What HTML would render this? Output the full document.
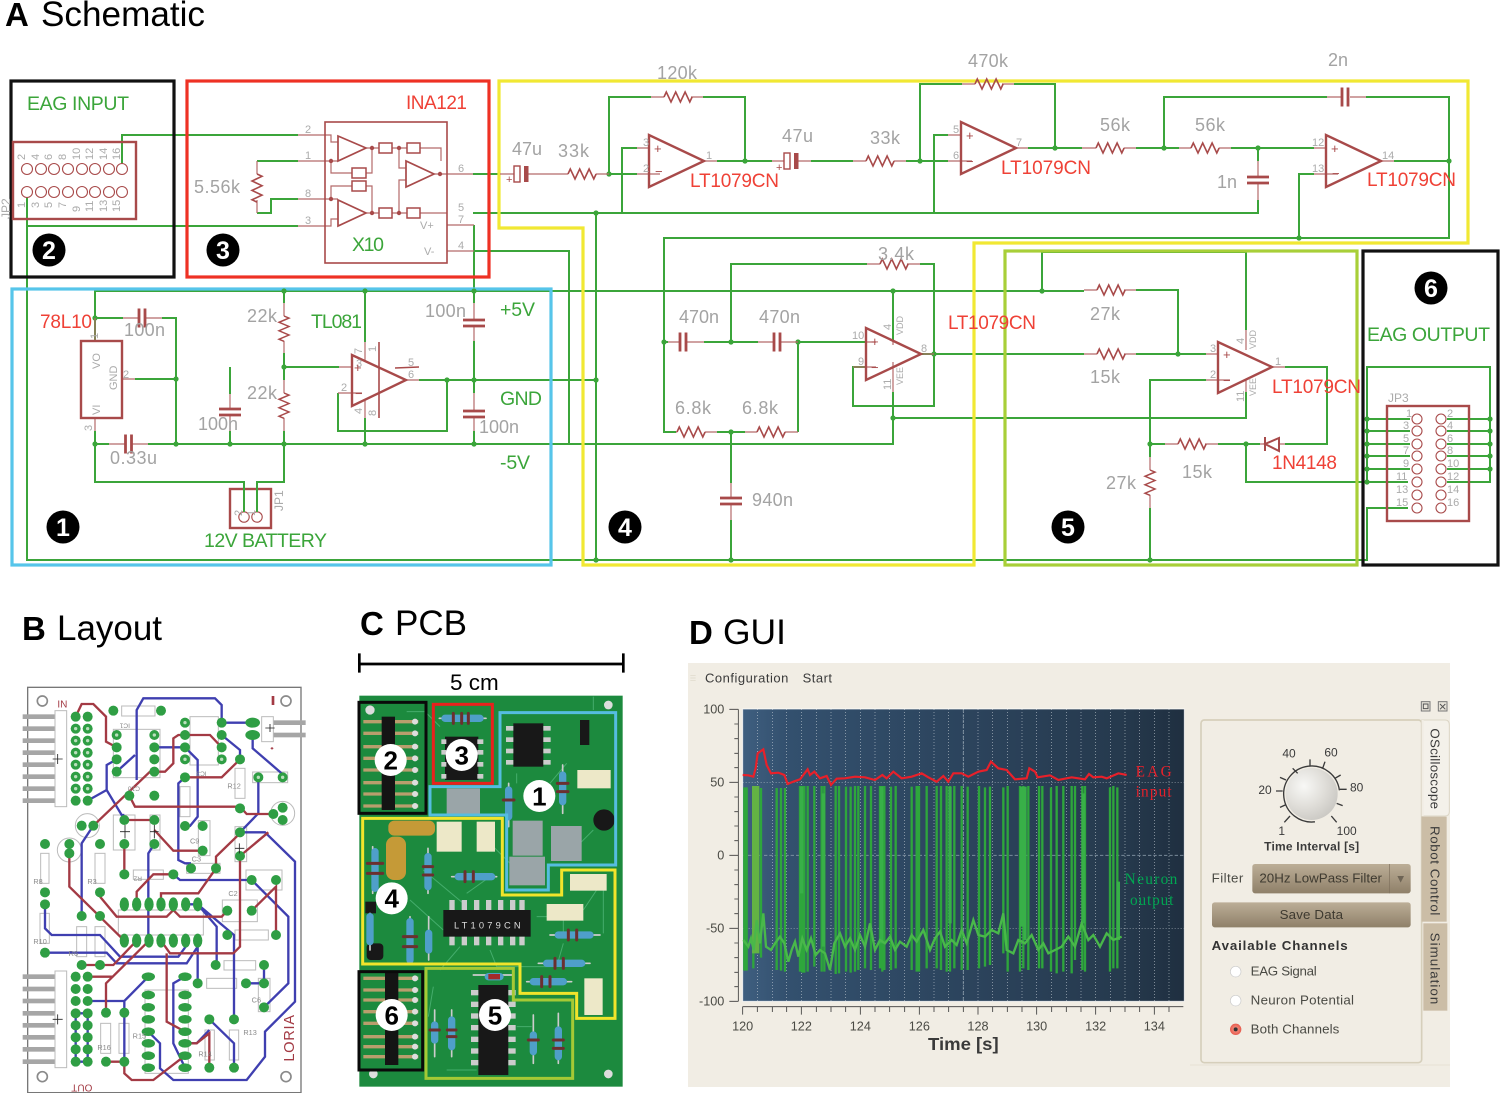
<!DOCTYPE html>
<html><head><meta charset="utf-8"><style>
html,body{margin:0;padding:0;background:#fff}
svg{display:block}
text{font-family:"Liberation Sans",sans-serif}
.g{fill:none;stroke:#3ba53a;stroke-width:2}
.b{fill:none;stroke:#b56a6a;stroke-width:1.2}
.r{fill:none;stroke:#a84a4a;stroke-width:1.6}
.t{fill:none;stroke:#a84a4a;stroke-width:2.4}
.lg{fill:#a3a3a3;font-size:18px}
.lv{fill:#3ba53a;font-size:19.5px}
.lr{fill:#ef4136;font-size:19px}
.p{fill:#ababab;font-size:11px}
.n{font-weight:bold;fill:#fff;font-size:25px;text-anchor:middle}
.ui{fill:#4a4a44;font-size:40px}
</style></head><body>
<svg xmlns="http://www.w3.org/2000/svg" width="1500" height="1093" viewBox="0 0 1500 1093">
<defs>
<path id="rz" d="M0 0l2.3-5 4.7 10 4.7-10 4.7 10 4.7-10 4.7 10 2.3-5"/>
<g id="ch" fill="none"><path d="M0-9.5V9.5M6-9.5V9.5" stroke="#a84a4a" stroke-width="2.8"/></g>
<g id="cv" fill="none"><path d="M-11 0H11M-11 6H11" stroke="#a84a4a" stroke-width="2.8"/></g>
<g id="pc"><rect x="0" y="-8" width="6" height="16" fill="none" stroke="#a84a4a" stroke-width="1.4"/><rect x="10" y="-8" width="4.5" height="16" fill="#a84a4a"/></g>
</defs>

<text x="5" y="26" font-size="33" font-weight="bold">A</text>
<text x="41" y="26" font-size="35" textLength="164" lengthAdjust="spacingAndGlyphs">Schematic</text>

<!-- wires -->
<g class="g">
<path d="M122,164V135H298M27,197V560H1367V508H1408M27,226H298M257,161H298M298,199H271V213H257M473,174H500M473,213H1258V200M474,225V303M474,251H569V444M95,341V291H1084"/>
<path d="M95,318H123M162,318H176V444M135,379H176M95,431V482H244V510M95,444H109M148,444H893V392M284,444V482H257V510M284,291V303M284,353V380M284,431V444M284,367H339M230,367V394M230,431V444M365,291V342M365,418V444M338,393V431H447V380M419,380H596M474,341V393M474,431V444M596,213V560"/>
<path d="M609,174H637M609,174V97H651M703,97H745V161M717,161H772M811,161H853M906,161H948M920,161V84H962M1014,84H1055V148M637,148H622V213M948,135H934V213M1028,148H1082M1136,148H1179M1231,148H1314M1164,148V97H1327M1366,97H1449V238H664V432H676M1394,161H1449M1299,238V174H1314M1258,148V161"/>
<path d="M664,342H668M704,342H758M798,342H866M731,342V264H867M920,264H934V406H853V367H866M921,354H1084M717,432H745M798,432V342M731,432V483M731,520V560M893,340V291M893,418H1246V392M1136,290H1178V354M1136,354H1206M1042,291V252H1246V330M1206,380H1150V457M1150,508V560M1150,444H1165M1218,444H1260M1285,444H1327V367H1285M1246,444V482H1408M1367,482V367H1490V482H1447M1367,419H1410M1367,431H1410M1367,444H1410M1367,456H1410M1367,469H1410M1447,419H1490M1447,431H1490M1447,444H1490M1447,456H1490M1447,469H1490"/>
</g>

<!-- region boxes -->
<g fill="none" stroke-width="3.2">
<rect x="11" y="81" width="163" height="196" stroke="#111"/>
<rect x="187" y="81" width="302" height="196" stroke="#ee3124"/>
<rect x="12" y="289" width="539" height="276" stroke="#56c5ea"/>
<path d="M499,81H1468V243H974V565H583V228H499Z" stroke="#f1e833"/>
<rect x="1005" y="251" width="352" height="314" stroke="#a8cf38"/>
<rect x="1363" y="251" width="135" height="314" stroke="#111"/>
</g>

<!-- dots -->
<g fill="#3ba53a">
<circle cx="95" cy="318" r="2.6"/><circle cx="95" cy="444" r="2.6"/><circle cx="176" cy="379" r="2.6"/><circle cx="176" cy="444" r="2.6"/><circle cx="230" cy="444" r="2.6"/><circle cx="284" cy="291" r="2.6"/><circle cx="284" cy="367" r="2.6"/><circle cx="284" cy="444" r="2.6"/><circle cx="365" cy="291" r="2.6"/><circle cx="365" cy="444" r="2.6"/><circle cx="447" cy="380" r="2.6"/><circle cx="474" cy="291" r="2.6"/><circle cx="474" cy="380" r="2.6"/><circle cx="474" cy="444" r="2.6"/>
<circle cx="596" cy="213" r="2.6"/><circle cx="596" cy="380" r="2.6"/><circle cx="596" cy="560" r="2.6"/><circle cx="609" cy="174" r="2.6"/><circle cx="745" cy="161" r="2.6"/><circle cx="920" cy="161" r="2.6"/><circle cx="1055" cy="148" r="2.6"/><circle cx="1164" cy="148" r="2.6"/><circle cx="1258" cy="148" r="2.6"/><circle cx="1449" cy="161" r="2.6"/><circle cx="1299" cy="238" r="2.6"/>
<circle cx="664" cy="342" r="2.6"/><circle cx="731" cy="342" r="2.6"/><circle cx="798" cy="342" r="2.6"/><circle cx="731" cy="432" r="2.6"/><circle cx="731" cy="560" r="2.6"/><circle cx="893" cy="291" r="2.6"/><circle cx="893" cy="418" r="2.6"/><circle cx="934" cy="354" r="2.6"/><circle cx="1042" cy="291" r="2.6"/><circle cx="1178" cy="354" r="2.6"/><circle cx="1150" cy="444" r="2.6"/><circle cx="1150" cy="560" r="2.6"/><circle cx="1246" cy="444" r="2.6"/>
<circle cx="1367" cy="419" r="2.6"/><circle cx="1367" cy="431" r="2.6"/><circle cx="1367" cy="444" r="2.6"/><circle cx="1367" cy="456" r="2.6"/><circle cx="1367" cy="469" r="2.6"/><circle cx="1367" cy="482" r="2.6"/><circle cx="1490" cy="419" r="2.6"/><circle cx="1490" cy="431" r="2.6"/><circle cx="1490" cy="444" r="2.6"/><circle cx="1490" cy="456" r="2.6"/><circle cx="1490" cy="469" r="2.6"/>
</g>

<!-- brown stubs -->
<path class="b" d="M298,135H331V142H338M298,161H338M298,199H338M298,226H331V219H338M366,148H379M392,148H407M420,148H441V161M366,213H379M392,213H407M420,213H447M372,148V173H366M331,161V173H352M331,199V186H352M366,186H372V213M399,148V168H406M399,213V180H406M434,174H473M447,225H474M447,251H474"/>
<path class="b" d="M257,161V174M257,200V213M95,318V341M135,379H122M95,418V431M109,444H125M132,444H148M123,318H139M146,318H162M284,303V316M284,341V353M284,380V393M284,418V431M230,394V409M230,416V431M339,367H352M338,393H362M365,342V362M365,400V418M406,380H419M474,303V320M474,327V341M474,393V410M474,417V431"/>
<path class="b" d="M500,174H514M528,174H568M596,174H609M637,174H660M637,148H649M651,97H664M691,97H703M704,161H717M772,161H784M798,161H811M853,161H866M894,161H906M948,135H961M948,161H972M962,84H975M1002,84H1014M1016,148H1028M1082,148H1096M1124,148H1136M1179,148H1191M1219,148H1231M1314,148H1326M1314,174H1338M1327,97H1342M1350,97H1366M1381,161H1394M1258,161V177M1258,184V200"/>
<path class="b" d="M668,342H680M687,342H704M758,342H774M781,342H798M866,342H876M853,367H876M867,264H880M907,264H920M921,354H934M893,340V345M893,362V392M676,432H677M705,432H717M745,432H757M785,432H798M731,483V498M731,505V520M1084,290H1097M1124,290H1136M1084,354H1097M1124,354H1136M1206,354H1218M1206,380H1230M1272,367H1285M1246,330V350M1246,380V392M1165,444H1178M1205,444H1218M1260,444H1265M1279,444H1285M1150,457V470M1150,495V508"/>

<!-- resistors -->
<g class="r">
<use href="#rz" x="0" y="0" transform="translate(257,174) rotate(90)"/>
<use href="#rz" transform="translate(284,316) rotate(90) scale(.9,1)"/>
<use href="#rz" transform="translate(284,393) rotate(90) scale(.9,1)"/>
<use href="#rz" transform="translate(568,174)"/>
<use href="#rz" transform="translate(664,97)"/>
<use href="#rz" transform="translate(866,161)"/>
<use href="#rz" transform="translate(975,84)"/>
<use href="#rz" transform="translate(1096,148)"/>
<use href="#rz" transform="translate(1191,148)"/>
<use href="#rz" transform="translate(880,264)"/>
<use href="#rz" transform="translate(677,432)"/>
<use href="#rz" transform="translate(757,432)"/>
<use href="#rz" transform="translate(1097,290)"/>
<use href="#rz" transform="translate(1097,354)"/>
<use href="#rz" transform="translate(1178,444)"/>
<use href="#rz" transform="translate(1150,470) rotate(90) scale(.9,1)"/>
</g>

<!-- capacitors -->
<use href="#ch" x="139" y="318"/><use href="#ch" x="125.5" y="444"/><use href="#cv" x="230" y="409"/><use href="#cv" x="474" y="320"/><use href="#cv" x="474" y="411"/>
<use href="#ch" x="1342" y="97" /><use href="#cv" x="1258" y="177"/><use href="#ch" x="680" y="342"/><use href="#ch" x="774" y="342"/><use href="#cv" x="731" y="498"/>
<use href="#pc" x="514" y="174"/><use href="#pc" x="784" y="161"/>
<text x="506" y="183" class="p" style="fill:#a84a4a">+</text><text x="776" y="171" class="p" style="fill:#a84a4a">+</text>

<!-- op amps -->
<g class="t">
<path d="M649,135V187L704,161Z"/><path d="M961,122V174L1016,148Z"/><path d="M1326,135V187L1381,161Z"/>
<path d="M866,328V380L921,354Z"/><path d="M1218,342V393L1272,367Z"/><path d="M352,355V406L406,380Z"/>
<path d="M338,136V161L366,148Z" stroke-width="1.7"/><path d="M338,200V226L366,213Z" stroke-width="1.7"/><path d="M406,161V187L434,174Z" stroke-width="1.7"/>
<rect x="325" y="122" width="122" height="141" stroke-width="1.6"/>
<rect x="13" y="142" width="123" height="77"/>
<rect x="81" y="341" width="41" height="77"/>
<rect x="230" y="489" width="41" height="39"/>
<rect x="1387" y="406" width="82" height="115"/>
</g>
<path class="r" d="M379,342V418M395,368L419,367" stroke-width="1"/>
<g fill="none" stroke="#a84a4a" stroke-width="1.5">
<rect x="379" y="143" width="13" height="10"/><rect x="407" y="143" width="13" height="10"/><rect x="379" y="208" width="13" height="10"/><rect x="407" y="208" width="13" height="10"/><rect x="352" y="168" width="14" height="10"/><rect x="352" y="181" width="14" height="10"/>
<path d="M1265,437V451M1279,438V451L1265,444Z" stroke-width="2"/>
</g>
<g fill="#a84a4a"><circle cx="372" cy="148" r="2.2"/><circle cx="399" cy="148" r="2.2"/><circle cx="372" cy="213" r="2.2"/><circle cx="399" cy="213" r="2.2"/><circle cx="331" cy="161" r="2.2"/><circle cx="331" cy="199" r="2.2"/><circle cx="440" cy="174" r="2.2"/></g>

<!-- connector holes -->
<g fill="#fff" stroke="#a84a4a" stroke-width="1.1">
<circle cx="27" cy="169" r="5.5"/><circle cx="41" cy="169" r="5.5"/><circle cx="54" cy="169" r="5.5"/><circle cx="68" cy="169" r="5.5"/><circle cx="82" cy="169" r="5.5"/><circle cx="95" cy="169" r="5.5"/><circle cx="109" cy="169" r="5.5"/><circle cx="122" cy="169" r="5.5"/>
<circle cx="27" cy="192" r="5.5"/><circle cx="41" cy="192" r="5.5"/><circle cx="54" cy="192" r="5.5"/><circle cx="68" cy="192" r="5.5"/><circle cx="82" cy="192" r="5.5"/><circle cx="95" cy="192" r="5.5"/><circle cx="109" cy="192" r="5.5"/><circle cx="122" cy="192" r="5.5"/>
<circle cx="244" cy="517" r="5.2"/><circle cx="257" cy="517" r="5.2"/>
<circle cx="1417" cy="419" r="5"/><circle cx="1417" cy="431" r="5"/><circle cx="1417" cy="444" r="5"/><circle cx="1417" cy="456" r="5"/><circle cx="1417" cy="469" r="5"/><circle cx="1417" cy="482" r="5"/><circle cx="1417" cy="495" r="5"/><circle cx="1417" cy="508" r="5"/>
<circle cx="1441" cy="419" r="5"/><circle cx="1441" cy="431" r="5"/><circle cx="1441" cy="444" r="5"/><circle cx="1441" cy="456" r="5"/><circle cx="1441" cy="469" r="5"/><circle cx="1441" cy="482" r="5"/><circle cx="1441" cy="495" r="5"/><circle cx="1441" cy="508" r="5"/>
</g>
<path class="g" d="M244,482V512M257,482V512"/>

<!-- small pin labels -->
<g class="p">
<text x="305" y="133">2</text><text x="305" y="159">1</text><text x="305" y="197">8</text><text x="305" y="224">3</text><text x="458" y="172">6</text><text x="458" y="211">5</text><text x="458" y="223">7</text><text x="458" y="249">4</text>
<text x="420" y="229">V+</text><text x="424" y="255">V-</text>
<text x="643" y="146">3</text><text x="643" y="172">2</text><text x="706" y="159">1</text><text x="953" y="133">5</text><text x="953" y="159">6</text><text x="1016" y="146">7</text><text x="1312" y="146">12</text><text x="1312" y="172">13</text><text x="1382" y="159">14</text>
<text x="852" y="339">10</text><text x="858" y="365">9</text><text x="921" y="352">8</text>
<text x="1210" y="352">3</text><text x="1210" y="378">2</text><text x="1275" y="365">1</text>
<text x="356" y="367">3</text><text x="341" y="391">2</text><text x="408" y="366">5</text><text x="408" y="378">6</text><text x="123" y="378">2</text>
<text x="1406" y="417">1</text><text x="1403" y="429">3</text><text x="1403" y="442">5</text><text x="1403" y="454">7</text><text x="1403" y="467">9</text><text x="1396" y="480">11</text><text x="1396" y="493">13</text><text x="1396" y="506">15</text>
<text x="1447" y="417">2</text><text x="1447" y="429">4</text><text x="1447" y="442">6</text><text x="1447" y="454">8</text><text x="1447" y="467">10</text><text x="1447" y="480">12</text><text x="1447" y="493">14</text><text x="1447" y="506">16</text>
<text transform="translate(25,160) rotate(-90)">2</text><text transform="translate(39,160) rotate(-90)">4</text><text transform="translate(52,160) rotate(-90)">6</text><text transform="translate(66,160) rotate(-90)">8</text><text transform="translate(80,160) rotate(-90)">10</text><text transform="translate(93,160) rotate(-90)">12</text><text transform="translate(107,160) rotate(-90)">14</text><text transform="translate(120,160) rotate(-90)">16</text>
<text transform="translate(25,208) rotate(-90)">1</text><text transform="translate(39,208) rotate(-90)">3</text><text transform="translate(52,208) rotate(-90)">5</text><text transform="translate(66,208) rotate(-90)">7</text><text transform="translate(80,212) rotate(-90)">9</text><text transform="translate(93,212) rotate(-90)">11</text><text transform="translate(107,212) rotate(-90)">13</text><text transform="translate(120,212) rotate(-90)">15</text>
<text transform="translate(10,219) rotate(-90)" style="font-size:12px">JP2</text>
<text transform="translate(98,339) rotate(-90)">1</text><text transform="translate(92,431) rotate(-90)">3</text>
<text transform="translate(100,369) rotate(-90)">VO</text><text transform="translate(117,390) rotate(-90)">GND</text><text transform="translate(100,415) rotate(-90)">VI</text>
<text transform="translate(362,354) rotate(-90)">7</text><text transform="translate(376,352) rotate(-90)">1</text><text transform="translate(362,414) rotate(-90)">4</text><text transform="translate(376,416) rotate(-90)">8</text>
<text transform="translate(242,516) rotate(-90)">2</text><text transform="translate(255,516) rotate(-90)">1</text><text transform="translate(283,511) rotate(-90)" style="font-size:12px">JP1</text>
<text transform="translate(891,330) rotate(-90)">4</text><text transform="translate(903,335) rotate(-90)" style="font-size:9px">VDD</text><text transform="translate(891,390) rotate(-90)">11</text><text transform="translate(903,385) rotate(-90)" style="font-size:9px">VEE</text>
<text transform="translate(1244,344) rotate(-90)">4</text><text transform="translate(1256,349) rotate(-90)" style="font-size:9px">VDD</text><text transform="translate(1244,402) rotate(-90)">11</text><text transform="translate(1256,396) rotate(-90)" style="font-size:9px">VEE</text>
<text x="1388" y="402" style="font-size:12px">JP3</text>
</g>

<!-- plus/minus -->
<g fill="#a84a4a" font-size="13">
<text x="654" y="153">+</text><text x="655" y="176">−</text><text x="966" y="140">+</text><text x="966" y="166">−</text><text x="1331" y="153">+</text><text x="1332" y="178">−</text>
<text x="871" y="346">+</text><text x="871" y="372">−</text><text x="1223" y="359">+</text><text x="1223" y="385">−</text><text x="354" y="372">+</text><text x="355" y="398">−</text>
</g>

<!-- labels -->
<text x="27" y="110" class="lv" textLength="102">EAG INPUT</text>
<text x="406" y="109" class="lr" textLength="61">INA121</text>
<text x="194" y="193" class="lg" textLength="46">5.56k</text>
<text x="352" y="251" class="lv" textLength="32">X10</text>
<text x="40" y="328" class="lr" textLength="52">78L10</text>
<text x="124" y="336" class="lg" textLength="41">100n</text>
<text x="247" y="322" class="lg" textLength="30">22k</text>
<text x="311" y="328" class="lv" textLength="51">TL081</text>
<text x="425" y="317" class="lg" textLength="41">100n</text>
<text x="500" y="316" class="lv" textLength="35">+5V</text>
<text x="500" y="405" class="lv" textLength="42">GND</text>
<text x="479" y="433" class="lg" textLength="40">100n</text>
<text x="500" y="469" class="lv" textLength="30">-5V</text>
<text x="247" y="399" class="lg" textLength="30">22k</text>
<text x="198" y="430" class="lg" textLength="40">100n</text>
<text x="110" y="464" class="lg" textLength="47">0.33u</text>
<text x="204" y="547" class="lv" textLength="123">12V BATTERY</text>
<text x="512" y="155" class="lg" textLength="30">47u</text>
<text x="558" y="157" class="lg" textLength="31">33k</text>
<text x="657" y="79" class="lg" textLength="40">120k</text>
<text x="690" y="187" class="lr" textLength="89">LT1079CN</text>
<text x="782" y="142" class="lg" textLength="31">47u</text>
<text x="870" y="144" class="lg" textLength="30">33k</text>
<text x="968" y="67" class="lg" textLength="40">470k</text>
<text x="1001" y="174" class="lr" textLength="90">LT1079CN</text>
<text x="1100" y="131" class="lg" textLength="30">56k</text>
<text x="1195" y="131" class="lg" textLength="30">56k</text>
<text x="1328" y="66" class="lg" textLength="20">2n</text>
<text x="1217" y="188" class="lg" textLength="20">1n</text>
<text x="1367" y="186" class="lr" textLength="89">LT1079CN</text>
<text x="679" y="323" class="lg" textLength="40">470n</text>
<text x="759" y="323" class="lg" textLength="41">470n</text>
<text x="878" y="260" class="lg" textLength="36">3.4k</text>
<text x="948" y="329" class="lr" textLength="88">LT1079CN</text>
<text x="675" y="414" class="lg" textLength="36">6.8k</text>
<text x="742" y="414" class="lg" textLength="36">6.8k</text>
<text x="752" y="506" class="lg" textLength="41">940n</text>
<text x="1090" y="320" class="lg" textLength="30">27k</text>
<text x="1090" y="383" class="lg" textLength="30">15k</text>
<text x="1272" y="393" class="lr" textLength="89">LT1079CN</text>
<text x="1272" y="469" class="lr" textLength="65">1N4148</text>
<text x="1182" y="478" class="lg" textLength="30">15k</text>
<text x="1106" y="489" class="lg" textLength="30">27k</text>
<text x="1367" y="341" class="lv" textLength="123">EAG OUTPUT</text>

<!-- bubbles -->
<g fill="#000"><circle cx="49" cy="250" r="16.5"/><circle cx="223" cy="250" r="16.5"/><circle cx="63" cy="527" r="16.5"/><circle cx="625" cy="527" r="16.5"/><circle cx="1068" cy="527" r="16.5"/><circle cx="1431" cy="288" r="16.5"/></g>
<text x="49" y="259" class="n">2</text><text x="223" y="259" class="n">3</text><text x="63" y="536" class="n">1</text><text x="625" y="536" class="n">4</text><text x="1068" y="536" class="n">5</text><text x="1431" y="297" class="n">6</text>

<!-- section titles -->
<text x="22" y="640" font-size="33" font-weight="bold">B</text><text x="57" y="640" font-size="35" textLength="105" lengthAdjust="spacingAndGlyphs">Layout</text>
<text x="360" y="635" font-size="33" font-weight="bold">C</text><text x="395" y="635" font-size="35" textLength="72" lengthAdjust="spacingAndGlyphs">PCB</text>
<text x="689" y="644" font-size="33" font-weight="bold">D</text><text x="723" y="644" font-size="35" textLength="63" lengthAdjust="spacingAndGlyphs">GUI</text>

<!-- B layout -->
<g transform="translate(10,680) scale(.33333)">
<rect x="53" y="22" width="820" height="1216" fill="#fff" stroke="#777" stroke-width="4"/>
<g fill="#a6a6a6">
<rect x="38" y="103" width="97" height="14"/><rect x="38" y="139" width="97" height="14"/><rect x="38" y="175" width="97" height="14"/><rect x="38" y="211" width="97" height="14"/><rect x="38" y="247" width="97" height="14"/><rect x="38" y="283" width="97" height="14"/><rect x="38" y="319" width="97" height="14"/><rect x="38" y="355" width="97" height="14"/>
<rect x="38" y="883" width="97" height="14"/><rect x="38" y="920" width="97" height="14"/><rect x="38" y="956" width="97" height="14"/><rect x="38" y="993" width="97" height="14"/><rect x="38" y="1029" width="97" height="14"/><rect x="38" y="1065" width="97" height="14"/><rect x="38" y="1101" width="97" height="14"/><rect x="38" y="1138" width="97" height="14"/>
<rect x="790" y="121" width="97" height="14"/><rect x="790" y="158" width="97" height="14"/>
</g>
<g fill="#fff" stroke="#bbb" stroke-width="3">
<rect x="135" y="92" width="35" height="288"/><rect x="135" y="873" width="35" height="290"/><rect x="755" y="110" width="35" height="75"/>
<rect x="310" y="148" width="140" height="145"/><rect x="540" y="110" width="85" height="145"/><rect x="335" y="78" width="100" height="30"/>
<rect x="310" y="405" width="65" height="105"/><rect x="420" y="405" width="30" height="105"/><rect x="565" y="422" width="35" height="105"/><rect x="675" y="440" width="35" height="105"/>
<rect x="92" y="520" width="25" height="90"/><rect x="255" y="520" width="30" height="90"/><rect x="370" y="570" width="90" height="28"/><rect x="530" y="550" width="100" height="30"/>
<rect x="708" y="570" width="108" height="60"/><rect x="637" y="660" width="105" height="65"/><rect x="675" y="750" width="100" height="30"/><rect x="642" y="842" width="95" height="28"/><rect x="590" y="895" width="90" height="30"/><rect x="745" y="895" width="35" height="100"/>
<rect x="325" y="690" width="255" height="75"/><rect x="90" y="700" width="28" height="90"/><rect x="200" y="740" width="30" height="90"/><rect x="255" y="740" width="30" height="90"/>
<rect x="405" y="930" width="130" height="250"/><rect x="272" y="1030" width="30" height="90"/><rect x="327" y="1030" width="30" height="90"/><rect x="585" y="1050" width="28" height="90"/><rect x="658" y="1050" width="28" height="90"/>
<rect x="675" y="265" width="30" height="90"/><rect x="510" y="320" width="30" height="90"/><rect x="728" y="276" width="105" height="32"/>
<circle cx="232" cy="437" r="36"/><circle cx="178" cy="510" r="36"/><circle cx="818" cy="400" r="36"/>
</g>
<g fill="none" stroke="#3f3fb0" stroke-width="7">
<path d="M380,300V90L400,55H615L635,75V128H728M635,165L690,210V238M728,165V205L815,280M433,202H525L563,240V410L540,438H525M233,362L290,330V255L320,238M290,330L335,405H343M215,708V490L250,437"/>
<path d="M105,673V745L125,765H270L330,830H505L527,800V782M105,818H290L320,850H530L563,800V782M433,492L415,520V782M525,292L505,310V540L525,550H543M490,583L510,600H725L835,710V910L762,982M563,673L620,740V855M527,673H563L672,765V1018M690,457L745,400V292"/>
<path d="M690,457H765L855,545V965L765,1055V1130L710,1200H490L450,1165V1090L415,1055M233,963H343L415,890M343,963V1145M563,782V910M525,890L490,910V1090L525,1163M598,1018L672,1090V1163M598,1050L560,1090H525M197,1000V1145H233V1000H197M708,910H762V855M320,275L375,225"/>
</g>
<g fill="none" stroke="#a33a44" stroke-width="7">
<path d="M197,110L215,72H250L288,110V185L320,202M433,275H465L490,250V175L505,165H600L635,202M525,292H635L690,238M358,347L375,380H690L710,402H790M250,437L420,275H433M343,420H433M433,450L490,512H578M343,492V583M178,520V620L343,782"/>
<path d="M270,650L320,710H470L490,690L510,710H635L652,692M380,673V635L430,583H490M453,673V640H565L618,565V530L690,460M690,528L775,457M690,528V800L670,820H480L453,782M725,692L798,620V765M215,855H310L380,782M288,998V910L417,782M233,890H310M470,820V1025L525,1055M288,1145H343V1180L365,1200H430L525,1127M525,1090H560L598,1060V1163"/>
</g>
<g fill="#2f9e44">
<circle cx="197" cy="110" r="15"/><circle cx="233" cy="110" r="15"/><circle cx="197" cy="146" r="15"/><circle cx="233" cy="146" r="15"/><circle cx="197" cy="182" r="15"/><circle cx="233" cy="182" r="15"/><circle cx="197" cy="218" r="15"/><circle cx="233" cy="218" r="15"/><circle cx="197" cy="254" r="15"/><circle cx="233" cy="254" r="15"/><circle cx="197" cy="290" r="15"/><circle cx="233" cy="290" r="15"/><circle cx="197" cy="326" r="15"/><circle cx="233" cy="326" r="15"/><circle cx="197" cy="362" r="15"/><circle cx="233" cy="362" r="15"/>
<circle cx="197" cy="890" r="15"/><circle cx="233" cy="890" r="15"/><circle cx="197" cy="927" r="15"/><circle cx="233" cy="927" r="15"/><circle cx="197" cy="963" r="15"/><circle cx="233" cy="963" r="15"/><circle cx="197" cy="1000" r="15"/><circle cx="233" cy="1000" r="15"/><circle cx="197" cy="1036" r="15"/><circle cx="233" cy="1036" r="15"/><circle cx="197" cy="1072" r="15"/><circle cx="233" cy="1072" r="15"/><circle cx="197" cy="1108" r="15"/><circle cx="233" cy="1108" r="15"/><circle cx="197" cy="1145" r="15"/><circle cx="233" cy="1145" r="15"/>
<circle cx="320" cy="165" r="15"/><circle cx="320" cy="202" r="15"/><circle cx="320" cy="238" r="15"/><circle cx="320" cy="275" r="15"/><circle cx="433" cy="165" r="15"/><circle cx="433" cy="202" r="15"/><circle cx="433" cy="238" r="15"/><circle cx="433" cy="275" r="15"/><circle cx="310" cy="92" r="15"/><circle cx="453" cy="92" r="15"/>
<circle cx="525" cy="128" r="15"/><circle cx="525" cy="165" r="15"/><circle cx="525" cy="202" r="15"/><circle cx="525" cy="238" r="15"/><circle cx="635" cy="128" r="15"/><circle cx="635" cy="165" r="15"/><circle cx="635" cy="202" r="15"/><circle cx="635" cy="238" r="15"/>
<ellipse cx="728" cy="128" rx="22" ry="15"/><ellipse cx="728" cy="165" rx="22" ry="15"/><circle cx="690" cy="238" r="15"/><circle cx="690" cy="385" r="15"/><circle cx="525" cy="292" r="15"/><circle cx="525" cy="438" r="15"/><circle cx="745" cy="292" r="15"/><circle cx="818" cy="292" r="15"/><circle cx="818" cy="383" r="15"/><circle cx="818" cy="420" r="15"/><circle cx="790" cy="402" r="15"/>
<circle cx="358" cy="347" r="15"/><circle cx="433" cy="347" r="15"/><circle cx="215" cy="437" r="15"/><circle cx="250" cy="437" r="15"/><circle cx="343" cy="420" r="15"/><circle cx="343" cy="492" r="15"/><circle cx="433" cy="420" r="15"/><circle cx="433" cy="492" r="15"/><circle cx="578" cy="438" r="15"/><circle cx="578" cy="512" r="15"/><circle cx="690" cy="457" r="15"/><circle cx="690" cy="528" r="15"/>
<circle cx="105" cy="492" r="15"/><circle cx="178" cy="492" r="15"/><circle cx="178" cy="520" r="15"/><circle cx="270" cy="492" r="15"/><circle cx="270" cy="637" r="15"/><circle cx="343" cy="583" r="15"/><circle cx="490" cy="583" r="15"/><circle cx="543" cy="565" r="15"/><circle cx="618" cy="565" r="15"/><circle cx="725" cy="600" r="15"/><circle cx="798" cy="600" r="15"/>
<circle cx="105" cy="637" r="15"/><circle cx="105" cy="673" r="15"/><circle cx="105" cy="818" r="15"/><circle cx="215" cy="708" r="15"/><circle cx="270" cy="708" r="15"/><circle cx="215" cy="855" r="15"/><circle cx="270" cy="855" r="15"/><circle cx="652" cy="692" r="15"/><circle cx="725" cy="692" r="15"/><circle cx="652" cy="765" r="15"/><circle cx="798" cy="765" r="15"/>
<ellipse cx="343" cy="673" rx="14" ry="21"/><ellipse cx="380" cy="673" rx="14" ry="21"/><ellipse cx="417" cy="673" rx="14" ry="21"/><ellipse cx="453" cy="673" rx="14" ry="21"/><ellipse cx="490" cy="673" rx="14" ry="21"/><ellipse cx="527" cy="673" rx="14" ry="21"/><ellipse cx="563" cy="673" rx="14" ry="21"/>
<ellipse cx="343" cy="782" rx="14" ry="21"/><ellipse cx="380" cy="782" rx="14" ry="21"/><ellipse cx="417" cy="782" rx="14" ry="21"/><ellipse cx="453" cy="782" rx="14" ry="21"/><ellipse cx="490" cy="782" rx="14" ry="21"/><ellipse cx="527" cy="782" rx="14" ry="21"/><ellipse cx="563" cy="782" rx="14" ry="21"/>
<circle cx="617" cy="855" r="15"/><circle cx="762" cy="855" r="15"/><circle cx="563" cy="910" r="15"/><circle cx="708" cy="910" r="15"/><circle cx="762" cy="910" r="15"/><circle cx="762" cy="982" r="15"/><ellipse cx="415" cy="890" rx="20" ry="13"/><ellipse cx="525" cy="890" rx="20" ry="13"/>
<ellipse cx="415" cy="945" rx="20" ry="13"/><ellipse cx="415" cy="982" rx="20" ry="13"/><ellipse cx="415" cy="1018" rx="20" ry="13"/><ellipse cx="415" cy="1055" rx="20" ry="13"/><ellipse cx="415" cy="1090" rx="20" ry="13"/><ellipse cx="415" cy="1127" rx="20" ry="13"/><ellipse cx="415" cy="1163" rx="20" ry="13"/>
<ellipse cx="525" cy="945" rx="20" ry="13"/><ellipse cx="525" cy="982" rx="20" ry="13"/><ellipse cx="525" cy="1018" rx="20" ry="13"/><ellipse cx="525" cy="1055" rx="20" ry="13"/><ellipse cx="525" cy="1090" rx="20" ry="13"/><ellipse cx="525" cy="1127" rx="20" ry="13"/><ellipse cx="525" cy="1163" rx="20" ry="13"/>
<circle cx="288" cy="998" r="15"/><circle cx="343" cy="998" r="15"/><circle cx="288" cy="1145" r="15"/><circle cx="343" cy="1145" r="15"/><circle cx="598" cy="1018" r="15"/><circle cx="672" cy="1018" r="15"/><circle cx="598" cy="1163" r="15"/><circle cx="672" cy="1163" r="15"/>
</g>
<g fill="#eaf5e6" opacity=".75">
<circle cx="233" cy="146" r="5"/><circle cx="233" cy="182" r="5"/><circle cx="233" cy="218" r="5"/><circle cx="233" cy="254" r="5"/><circle cx="233" cy="290" r="5"/><circle cx="233" cy="326" r="5"/><circle cx="197" cy="146" r="5"/><circle cx="197" cy="182" r="5"/><circle cx="197" cy="218" r="5"/><circle cx="197" cy="254" r="5"/><circle cx="197" cy="290" r="5"/><circle cx="197" cy="326" r="5"/><circle cx="320" cy="165" r="5"/><circle cx="433" cy="165" r="5"/><circle cx="525" cy="128" r="5"/><circle cx="525" cy="238" r="5"/><circle cx="635" cy="238" r="5"/><circle cx="745" cy="292" r="5"/><circle cx="818" cy="292" r="5"/>
</g>
<g fill="none" stroke="#8a8a8a" stroke-width="5"><circle cx="97" cy="63" r="15"/><circle cx="828" cy="63" r="15"/><circle cx="97" cy="1190" r="15"/><circle cx="828" cy="1190" r="15"/></g>
<g stroke="#222" stroke-width="2.5"><path d="M143,222V252M128,237H158M143,1003V1033M128,1018H158M780,132V156M766,144H794M345,435V475M330,455H360M433,435V475M420,455H446M688,490V520M675,505H703"/></g>
<rect x="785" y="48" width="8" height="27" fill="#a33a44"/>
<path d="M782,205H790M786,201V209" stroke="#a33a44" stroke-width="3"/>
<text transform="translate(852,1145) rotate(-90)" font-size="44" fill="#a33a44" textLength="140">LORIA</text>
<text transform="translate(172,62) rotate(180)" font-size="30" fill="#a33a44">NI</text>
<text transform="translate(247,1213) rotate(180)" font-size="30" fill="#a33a44">OUT</text>
<g font-size="22" fill="#8a8a8a">
<text x="70" y="612">R8</text><text x="232" y="612">R3</text><text x="70" y="792">R10</text><text x="176" y="828">R6</text><text x="368" y="1075">R15</text><text x="262" y="1110">R16</text><text x="565" y="1130">R14</text><text x="700" y="1065">R13</text><text x="652" y="325">R12</text><text x="540" y="490">C9</text><text x="655" y="648">C2</text><text x="725" y="968">C6</text><text x="545" y="545">C3</text>
<text transform="translate(396,590) rotate(180)" font-size="20">R2</text><text transform="translate(590,275) rotate(180)" font-size="20">IC3</text><text transform="translate(360,130) rotate(180)" font-size="20">IC1</text><text transform="translate(390,320) rotate(180)" font-size="20">C10</text>
</g>
</g>

<!-- C PCB -->
<g transform="translate(350,650) scale(.33333)">
<path d="M28,42H820M28,10V68M820,10V68" fill="none" stroke="#000" stroke-width="8"/>
<text x="300" y="120" font-size="66" textLength="146" lengthAdjust="spacingAndGlyphs">5 cm</text>
<rect x="28" y="137" width="790" height="1173" fill="#1c8a3e"/>
<g fill="none" stroke="#45ad6c" stroke-width="3">
<path d="M170,185H225L270,230M600,400L650,340M500,400V370M340,760L220,660M180,750L280,840M330,890L270,960M420,900L440,950H620L640,880M560,800H640V860M740,720L700,780M760,720V850M350,730L420,680M250,1010L235,1100M500,1130H545M730,140V180M430,590L480,640M290,1260H380M730,540L690,580"/>
</g>
<g fill="none" stroke="#b99e6d" stroke-width="10">
<path d="M40,215H205M40,250H205M40,290H205M40,325H205M40,360H205M40,398H205M40,432H205M40,468H205M40,985H205M40,1020H205M40,1050H205M40,1085H205M40,1120H205M40,1160H205M40,1190H205M40,1220H205"/>
</g>
<rect x="95" y="200" width="40" height="280" fill="#141414"/>
<rect x="105" y="965" width="40" height="280" fill="#141414"/>
<g fill="#ddd"><circle cx="195" cy="215" r="9"/><circle cx="195" cy="250" r="9"/><circle cx="195" cy="290" r="9"/><circle cx="195" cy="325" r="9"/><circle cx="195" cy="360" r="9"/><circle cx="195" cy="398" r="9"/><circle cx="195" cy="432" r="9"/><circle cx="195" cy="468" r="9"/><circle cx="195" cy="985" r="9"/><circle cx="195" cy="1020" r="9"/><circle cx="195" cy="1050" r="9"/><circle cx="195" cy="1085" r="9"/><circle cx="195" cy="1120" r="9"/><circle cx="195" cy="1160" r="9"/><circle cx="195" cy="1190" r="9"/><circle cx="195" cy="1220" r="9"/><circle cx="60" cy="180" r="14"/><circle cx="775" cy="165" r="13"/><circle cx="70" cy="1272" r="13"/><circle cx="775" cy="1272" r="13"/></g>
<g fill="#181818">
<rect x="490" y="220" width="90" height="130"/><rect x="285" y="260" width="100" height="130"/><rect x="280" y="780" width="262" height="80"/><rect x="385" y="1005" width="90" height="270"/>
<circle cx="762" cy="510" r="32"/><rect x="690" y="210" width="28" height="75"/><rect x="50" y="880" width="50" height="50" rx="12"/><rect x="46" y="755" width="32" height="35"/>
</g>
<g fill="#ccc"><rect x="468" y="228" width="22" height="14"/><rect x="468" y="262" width="22" height="14"/><rect x="468" y="296" width="22" height="14"/><rect x="468" y="330" width="22" height="14"/><rect x="580" y="228" width="22" height="14"/><rect x="580" y="262" width="22" height="14"/><rect x="580" y="296" width="22" height="14"/><rect x="580" y="330" width="22" height="14"/>
<rect x="274" y="268" width="15" height="14"/><rect x="274" y="300" width="15" height="14"/><rect x="274" y="336" width="15" height="14"/><rect x="274" y="372" width="15" height="14"/><rect x="382" y="268" width="18" height="14"/><rect x="382" y="300" width="18" height="14"/><rect x="382" y="336" width="18" height="14"/><rect x="382" y="372" width="18" height="14"/>
<rect x="298" y="750" width="16" height="30"/><rect x="335" y="750" width="16" height="30"/><rect x="372" y="750" width="16" height="30"/><rect x="408" y="750" width="16" height="30"/><rect x="444" y="750" width="16" height="30"/><rect x="480" y="750" width="16" height="30"/><rect x="508" y="750" width="16" height="30"/>
<rect x="298" y="860" width="16" height="26"/><rect x="335" y="860" width="16" height="26"/><rect x="372" y="860" width="16" height="26"/><rect x="408" y="860" width="16" height="26"/><rect x="444" y="860" width="16" height="26"/><rect x="480" y="860" width="16" height="26"/><rect x="508" y="860" width="16" height="26"/>
<rect x="363" y="1020" width="22" height="16"/><rect x="363" y="1055" width="22" height="16"/><rect x="363" y="1090" width="22" height="16"/><rect x="363" y="1125" width="22" height="16"/><rect x="363" y="1160" width="22" height="16"/><rect x="363" y="1195" width="22" height="16"/><rect x="363" y="1230" width="22" height="16"/>
<rect x="475" y="1020" width="22" height="16"/><rect x="475" y="1055" width="22" height="16"/><rect x="475" y="1090" width="22" height="16"/><rect x="475" y="1125" width="22" height="16"/><rect x="475" y="1160" width="22" height="16"/><rect x="475" y="1195" width="22" height="16"/><rect x="475" y="1230" width="22" height="16"/>
</g>
<text x="312" y="835" fill="#ddd" font-size="28" textLength="200">LT1079CN</text>
<g fill="#9aa5a8"><rect x="290" y="415" width="100" height="78"/><rect x="488" y="512" width="90" height="105"/><rect x="603" y="528" width="92" height="105"/><rect x="478" y="620" width="107" height="86"/></g>
<g fill="#ede8c8"><rect x="682" y="360" width="100" height="55"/><rect x="260" y="515" width="75" height="90"/><rect x="380" y="515" width="55" height="90"/><rect x="660" y="672" width="110" height="50"/><rect x="590" y="762" width="110" height="50"/><rect x="703" y="985" width="55" height="110"/></g>
<g fill="#c59a37"><rect x="115" y="512" width="140" height="45" rx="18"/><rect x="108" y="560" width="60" height="130" rx="24"/></g>
<g fill="none" stroke-linecap="round">
<path d="M268,205H408M305,680H440M600,855H750M565,940H720M530,995H665M638,345V490M476,400V530M234,595V730M68,590V730M180,800V930M236,800V930M60,790V900M254,1080V1220M305,1080V1220M550,1095V1240M625,1090V1240M370,975H490" stroke="#ccc" stroke-width="5"/>
<path d="M285,205H390M325,680H425M625,855H720M590,940H695M550,995H640M638,375V455M476,420V500M234,620V710M75,605V715M180,815V930M236,850V900M60,800V875M254,1125V1170M305,1110V1190M550,1155V1205M625,1140V1220M415,980H450" stroke="#4f9fc9" stroke-width="22"/>
<path d="M310,190V220M335,190V220M355,190V220M345,665V695M370,665V695M655,840V870M680,840V870M615,925V955M640,925V955M575,980V1010M600,980V1010M622,400H654M622,425H654M460,450H492M220,650H248M220,675H248M52,640H98M52,670H98M160,860H200M160,890H200M240,1140H268M292,1140H318M292,1160H318M610,1170H640M610,1195H640M535,1170H565" stroke="#6b2f2f" stroke-width="9"/>
</g>
<rect x="415" y="972" width="35" height="16" fill="#a32a2a"/>
<g fill="none" stroke-width="9">
<rect x="27" y="157" width="201" height="333" stroke="#0a0a0a"/>
<rect x="250" y="163" width="177" height="237" stroke="#e8211d"/>
<rect x="27" y="965" width="191" height="295" stroke="#0a0a0a"/>
<path d="M450,188H797V645H595V720H470V495H240V410H450Z" stroke="#55bde0"/>
<path d="M38,505H457V735H635V660H795V1105H680V1030H510V942H38Z" stroke="#f1e42b"/>
<path d="M228,955H490V1050H668V1285H228Z" stroke="#a5c935"/>
</g>
<g fill="#fff"><circle cx="122" cy="330" r="48"/><circle cx="335" cy="315" r="48"/><circle cx="568" cy="438" r="48"/><circle cx="125" cy="745" r="48"/><circle cx="125" cy="1095" r="48"/><circle cx="435" cy="1095" r="48"/></g>
<g font-size="78" font-weight="bold" text-anchor="middle" fill="#000"><text x="122" y="358">2</text><text x="335" y="343">3</text><text x="568" y="466">1</text><text x="125" y="773">4</text><text x="125" y="1123">6</text><text x="435" y="1123">5</text></g>
</g>

<!-- D GUI -->
<defs>
<linearGradient id="pl" x1="0" x2="1" y1="0" y2="0"><stop offset="0" stop-color="#3f5f80"/><stop offset=".1" stop-color="#33506e"/><stop offset=".5" stop-color="#2c445d"/><stop offset=".85" stop-color="#263a4e"/><stop offset="1" stop-color="#1f2f40"/></linearGradient>
<radialGradient id="kn" cx=".35" cy=".35" r=".8"><stop offset="0" stop-color="#f8f8f6"/><stop offset=".5" stop-color="#e0ded9"/><stop offset="1" stop-color="#c4c2bd"/></radialGradient>
<linearGradient id="bt" x1="0" x2="0" y1="0" y2="1"><stop offset="0" stop-color="#bcae97"/><stop offset="1" stop-color="#8f8069"/></linearGradient>
<radialGradient id="rd" cx=".5" cy=".5" r=".5"><stop offset="0" stop-color="#f9a090"/><stop offset="1" stop-color="#e75a4c"/></radialGradient>
</defs>
<rect x="688" y="663" width="762" height="424" fill="#f1ede4"/>
<g transform="translate(685,660) scale(.33333)">
<text x="60" y="67" font-size="39" fill="#3a3a3a" textLength="250">Configuration</text>
<text x="353" y="67" font-size="39" fill="#3a3a3a" textLength="88">Start</text>
<path d="M16,46H32M16,54H32M16,62H32" stroke="#dcd7c8" stroke-width="2"/>
<rect x="173" y="147" width="1325" height="877" fill="url(#pl)"/>
<g stroke="#cfd6dc" stroke-width="2" stroke-dasharray="3 6" opacity=".8">
<path d="M217,147V1024M262,147V1024M305,147V1024M349,147V1024M394,147V1024M438,147V1024M482,147V1024M526,147V1024M570,147V1024M614,147V1024M659,147V1024M703,147V1024M747,147V1024M791,147V1024M835,147V1024M879,147V1024M923,147V1024M967,147V1024M1011,147V1024M1055,147V1024M1100,147V1024M1144,147V1024M1188,147V1024M1232,147V1024M1276,147V1024M1320,147V1024M1364,147V1024M1408,147V1024M1452,147V1024M173,367H1498M173,805H1498"/>
</g>
<path d="M173,586H1498M835,147V1024" stroke="#8ea0ae" stroke-width="3" stroke-dasharray="10 6" opacity=".8"/>
<rect x="173" y="147" width="1325" height="877" fill="none" stroke="#fff" stroke-width="3" opacity=".7"/>
<g fill="none" stroke="#2ea63c" stroke-width="7">
<path d="M178,382V932M185,382V932M205,382V925M228,384V893M275,384V930M288,384V932M300,384V935M345,378V935M352,378V938M358,378V938M368,378V935M388,378V920M410,378V935M418,378V935M452,378V942M462,378V940M483,380V935M497,380V938M510,378V935M520,378V930M540,378V925M558,378V930M585,378V925M592,378V935M598,378V930M618,380V930M632,378V925M680,380V930M695,378V935M702,378V935M725,378V925M755,378V925M768,378V930M785,378V935M795,378V935M808,378V925M830,378V930M848,380V930M882,378V925M900,382V920M915,380V915M955,382V880M968,378V935M1005,378V935M1015,378V925M1030,378V930M1062,378V925M1072,378V925M1098,382V935M1115,378V940M1135,378V935M1160,378V940M1170,378V900M1192,378V930M1200,378V935M1275,382V935M1285,378V925M1297,382V925"/>
</g>
<path d="M212,378V880" stroke="#63b344" stroke-width="22"/>
<path d="M590,380V850M415,400V860M1195,400V790M1020,380V840M795,380V790M1300,665V840M350,380V700M1010,380V800" stroke="#38b048" stroke-width="10"/>
<path d="M175,840 190,860 198,835 206,870 215,780 225,850 235,760 243,860 258,870 270,850 285,830 298,850 310,905 320,870 330,845 340,890 352,835 365,870 378,835 392,885 405,870 420,880 435,930 448,850 465,820 480,860 495,835 510,870 525,825 540,860 555,790 570,870 585,840 600,850 615,830 630,870 645,845 665,860 680,825 695,845 715,810 735,870 750,835 765,815 780,860 800,840 815,855 830,810 845,850 865,780 880,825 900,830 920,810 940,820 955,760 965,870 985,880 1000,840 1020,850 1040,825 1060,870 1075,850 1090,880 1110,870 1130,860 1150,830 1170,860 1190,790 1210,840 1225,825 1245,860 1265,820 1285,840 1310,830" fill="none" stroke="#49b84a" stroke-width="7"/>
<path d="M173,345 190,346 205,350 212,325 218,280 235,268 245,315 258,340 280,338 298,345 308,372 325,365 345,358 368,328 375,345 388,335 405,355 425,348 438,375 455,356 480,355 510,350 540,352 570,360 592,345 605,355 625,335 650,355 680,350 710,340 730,352 755,365 775,348 790,365 805,340 830,340 850,350 880,335 905,330 918,305 940,325 965,330 990,358 1025,355 1033,325 1050,335 1058,352 1095,346 1120,360 1160,352 1200,358 1212,342 1225,352 1250,350 1265,355 1300,340 1325,345" fill="none" stroke="#e8202a" stroke-width="6.5"/>
<g stroke="#3a3a3a" stroke-width="2.5" fill="none">
<path d="M160,148V1024M133,148H160M133,367H160M133,586H160M133,805H160M133,1024H160M148,192H160M148,236H160M148,280H160M148,323H160M148,411H160M148,455H160M148,498H160M148,542H160M148,630H160M148,674H160M148,717H160M148,761H160M148,849H160M148,893H160M148,937H160M148,980H160"/>
<path d="M173,1040H1495M173,1040V1064M349,1040V1064M526,1040V1064M703,1040V1064M879,1040V1064M1055,1040V1064M1232,1040V1064M1408,1040V1064M217,1040V1056M262,1040V1056M305,1040V1056M394,1040V1056M438,1040V1056M482,1040V1056M570,1040V1056M614,1040V1056M659,1040V1056M747,1040V1056M791,1040V1056M835,1040V1056M923,1040V1056M967,1040V1056M1011,1040V1056M1100,1040V1056M1144,1040V1056M1188,1040V1056M1276,1040V1056M1320,1040V1056M1364,1040V1056M1452,1040V1056"/>
</g>
<g font-size="38" fill="#4a4a44" text-anchor="end"><text x="118" y="161">100</text><text x="118" y="380">50</text><text x="118" y="599">0</text><text x="118" y="818">-50</text><text x="118" y="1037">-100</text></g>
<g font-size="38" fill="#4a4a44" text-anchor="middle"><text x="173" y="1111">120</text><text x="349" y="1111">122</text><text x="526" y="1111">124</text><text x="703" y="1111">126</text><text x="879" y="1111">128</text><text x="1055" y="1111">130</text><text x="1232" y="1111">132</text><text x="1408" y="1111">134</text></g>
<text x="835" y="1170" font-size="52" font-weight="bold" fill="#3a3a3a" text-anchor="middle" textLength="212" lengthAdjust="spacingAndGlyphs">Time [s]</text>
<g font-size="46" text-anchor="middle">
<text x="1406" y="350" fill="#e8202a" style="font-family:'Liberation Serif',serif" textLength="108">EAG</text><text x="1406" y="410" fill="#e8202a" style="font-family:'Liberation Serif',serif" textLength="108">input</text>
<text x="1398" y="672" fill="#00a651" style="font-family:'Liberation Serif',serif" textLength="158">Neuron</text><text x="1400" y="735" fill="#00a651" style="font-family:'Liberation Serif',serif" textLength="130">output</text>
</g>
</g>

<!-- side panel -->
<g transform="translate(1190,690) scale(.33333)">
<rect x="33" y="90" width="662" height="1028" rx="10" fill="#f1ede4" stroke="#d6cfbb" stroke-width="5"/>
<path d="M695,380V90H765Q778,90 778,105V365Q778,378 765,378H695" fill="#f4f1ea" stroke="#dcd6c6" stroke-width="3"/>
<rect x="695" y="380" width="75" height="315" fill="#cbbda6"/>
<rect x="700" y="700" width="72" height="262" fill="#cbbda6"/>
<rect x="695" y="90" width="6" height="288" fill="#f1ede4"/>
<text transform="translate(722,115) rotate(90)" font-size="40" fill="#3a3a3a" textLength="242">OScilloscope</text>
<text transform="translate(722,408) rotate(90)" font-size="40" fill="#3a3a3a" textLength="268">Robot Control</text>
<text transform="translate(722,728) rotate(90)" font-size="40" fill="#3a3a3a" textLength="215">Simulation</text>
<g fill="#e8e4da" stroke="#777" stroke-width="3"><rect x="694" y="35" width="26" height="28"/><rect x="745" y="35" width="26" height="28"/></g>
<path d="M700,42H714V56H700ZM750,42L766,58M766,42L750,58" fill="none" stroke="#555" stroke-width="3"/>
<circle cx="365" cy="312" r="84" fill="none" stroke="#3a3a3a" stroke-width="4" stroke-dasharray="395 133" stroke-dashoffset="-198" transform="rotate(-52 365 312)"/>
<circle cx="365" cy="312" r="78" fill="url(#kn)"/>
<g stroke="#3a3a3a" stroke-width="4"><path d="M300,378L283,397M270,352L288,344M270,262L288,270M258,303H278M308,235L323,250M360,208V228M405,215L398,235M452,255L435,265M470,298H450M458,347L440,340M424,378L440,397"/></g>
<g font-size="36" fill="#3a3a3a" text-anchor="middle"><text x="297" y="203">40</text><text x="423" y="200">60</text><text x="225" y="312">20</text><text x="500" y="305">80</text><text x="275" y="435">1</text><text x="470" y="435">100</text></g>
<text x="365" y="482" font-size="36" font-weight="bold" fill="#3a3a3a" text-anchor="middle" textLength="285">Time Interval [s]</text>
<text x="65" y="578" class="ui" textLength="95">Filter</text>
<rect x="187" y="522" width="475" height="88" rx="8" fill="url(#bt)"/>
<path d="M598,522V610" stroke="#7e705c" stroke-width="2"/>
<text x="208" y="578" class="ui" textLength="368" style="fill:#3e3a30">20Hz LowPass Filter</text>
<path d="M622,558H642L632,578Z" fill="#6e6455"/>
<rect x="66" y="637" width="596" height="75" rx="8" fill="url(#bt)"/>
<text x="364" y="687" class="ui" text-anchor="middle" textLength="190" style="fill:#3e3a30">Save Data</text>
<text x="65" y="780" font-size="40" font-weight="bold" fill="#333" textLength="408">Available Channels</text>
<circle cx="137" cy="845" r="16" fill="#fff" stroke="#ccc" stroke-width="2"/><circle cx="137" cy="932" r="16" fill="#fff" stroke="#ccc" stroke-width="2"/><circle cx="137" cy="1018" r="17" fill="url(#rd)"/><circle cx="137" cy="1018" r="6" fill="#333"/>
<text x="182" y="857" class="ui" textLength="198">EAG Signal</text>
<text x="182" y="943" class="ui" textLength="310">Neuron Potential</text>
<text x="182" y="1030" class="ui" textLength="266">Both Channels</text>
<path d="M0,1125H780" stroke="#e6e1d4" stroke-width="3"/>
</g>
</svg>
</body></html>
